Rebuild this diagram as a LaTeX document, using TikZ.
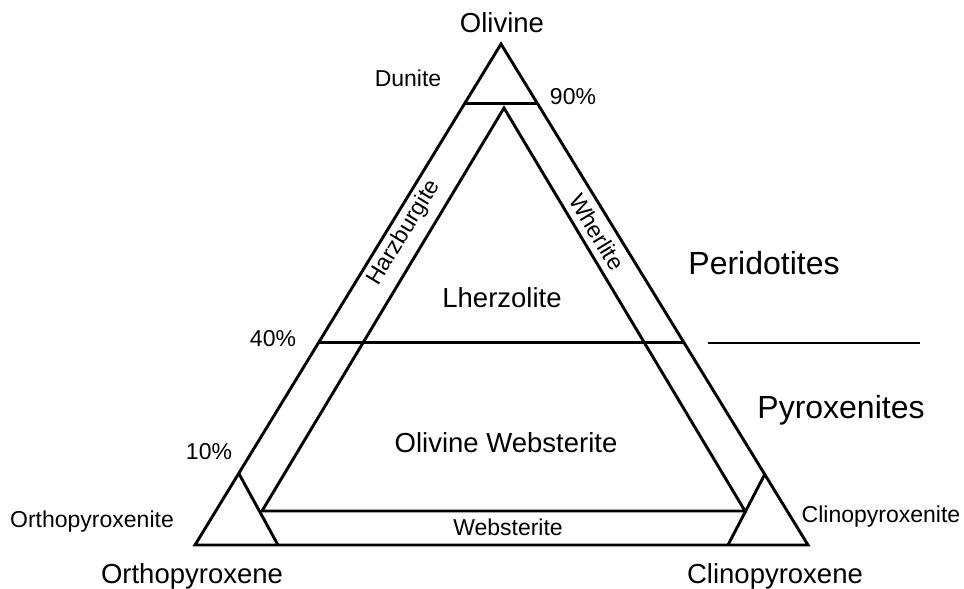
\documentclass[tikz,border=0pt]{standalone}
\usepackage{fontspec}
\setmainfont{Liberation Sans}
\usetikzlibrary{calc}

\begin{document}
\begin{tikzpicture}[x=1pt,y=-1pt,line width=2.9pt,
  small/.style={font=\fontsize{23}{27}\selectfont,inner sep=0pt,anchor=base},
  mid/.style={font=\fontsize{27.5}{32}\selectfont,inner sep=0pt,anchor=base},
  big/.style={font=\fontsize{32}{38}\selectfont,inner sep=0pt,anchor=base}]
  \useasboundingbox (0,0) rectangle (964,589);
  % corners of the ternary
  \coordinate (ol) at (501,44);
  \coordinate (opx) at (195,545);
  \coordinate (cpx) at (808,545);
  % inner field
  \coordinate (ia) at (504,108);
  \coordinate (il) at (262,511);
  \coordinate (ir) at (745,511);
  % corner fields
  \coordinate (ot) at ($(ol)!0.857!(opx)$);
  \coordinate (ob) at (278,545);
  \coordinate (ct) at ($(ol)!0.859!(cpx)$);
  \coordinate (cb) at (728,545);
  \draw (ol) -- (opx) -- (cpx) -- cycle;
  \draw ($(ol)!0.118!(opx)$) -- ($(ol)!0.118!(cpx)$);
  \draw ($(ol)!0.596!(opx)$) -- ($(ol)!0.596!(cpx)$);
  \draw (ia) -- (il) -- (ir) -- cycle;
  \draw (ot) -- (ob);
  \draw (ct) -- (cb);
  \draw (708,343) coordinate (s1) -- (920,343) coordinate (s2);
  % labels
  \node[mid] (olv) at (502,32) {Olivine};
  \node[small] (dun) at (408,86) {Dunite};
  \node[small] (p90) at (573,104) {90\%};
  \node[small] (p40) at (273,346) {40\%};
  \node[small] (p10) at (209,459) {10\%};
  \node[small,anchor=center,rotate=58.6] (hzb) at (404,233) {Harzburgite};
  \node[small,anchor=center,rotate=-58.6] (whr) at (597,232) {Wherlite};
  \node[mid] (lhz) at (502,307) {Lherzolite};
  \node[mid] (owb) at (506,452) {Olivine Websterite};
  \node[small] (wbs) at (508,535) {Websterite};
  \node[small] (opxt) at (92,527) {Orthopyroxenite};
  \node[small] (cpxt) at (881,522) {Clinopyroxenite};
  \node[mid] (opxl) at (192,583) {Orthopyroxene};
  \node[mid] (cpxl) at (775,583) {Clinopyroxene};
  \node[big] (per) at (764,274) {Peridotites};
  \node[big] (pyr) at (841,418) {Pyroxenites};
\end{tikzpicture}
\end{document}
